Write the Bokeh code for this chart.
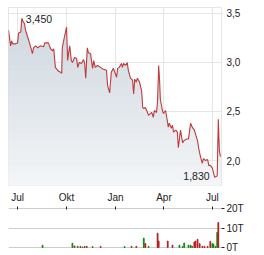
import numpy as np
import pandas as pd
from bokeh.plotting import figure
from bokeh.layouts import column
from bokeh.models import FixedTicker, CustomJSTickFormatter, Range1d, ColumnDataSource
from bokeh.core.properties import value
from bokeh.embed import file_html
from bokeh.resources import INLINE

# ---------------- data ----------------
price_dates = [
    "2023-06-14", "2023-06-18", "2023-06-20", "2023-06-22", "2023-06-27", "2023-07-01", "2023-07-03", "2023-07-07", "2023-07-09", "2023-07-12",
    "2023-07-14", "2023-07-16", "2023-07-20", "2023-07-24", "2023-07-29", "2023-07-31", "2023-08-04", "2023-08-08", "2023-08-13", "2023-08-19",
    "2023-08-21", "2023-08-28", "2023-09-01", "2023-09-05", "2023-09-07", "2023-09-10", "2023-09-16", "2023-09-20", "2023-09-22", "2023-09-23",
    "2023-09-27", "2023-10-01", "2023-10-03", "2023-10-05", "2023-10-07", "2023-10-10", "2023-10-12", "2023-10-16", "2023-10-20", "2023-10-22",
    "2023-10-25", "2023-10-29", "2023-11-02", "2023-11-04", "2023-11-06", "2023-11-09", "2023-11-11", "2023-11-15", "2023-11-19", "2023-11-21",
    "2023-11-24", "2023-11-28", "2023-12-04", "2023-12-09", "2023-12-15", "2023-12-17", "2023-12-21", "2023-12-24", "2023-12-26", "2023-12-28",
    "2024-01-03", "2024-01-05", "2024-01-08", "2024-01-12", "2024-01-14", "2024-01-16", "2024-01-20", "2024-01-23", "2024-01-25", "2024-01-29",
    "2024-02-02", "2024-02-04", "2024-02-06", "2024-02-09", "2024-02-11", "2024-02-15", "2024-02-19", "2024-02-21", "2024-02-23", "2024-02-26",
    "2024-03-01", "2024-03-03", "2024-03-07", "2024-03-09", "2024-03-12", "2024-03-14", "2024-03-18", "2024-03-20", "2024-03-22", "2024-03-24",
    "2024-03-25", "2024-03-29", "2024-03-31", "2024-04-04", "2024-04-08", "2024-04-09", "2024-04-11", "2024-04-15", "2024-04-17", "2024-04-19",
    "2024-04-23", "2024-04-26", "2024-04-28", "2024-05-02", "2024-05-06", "2024-05-08", "2024-05-13", "2024-05-17", "2024-05-21", "2024-05-24",
    "2024-05-28", "2024-06-03", "2024-06-05", "2024-06-08", "2024-06-12", "2024-06-14", "2024-06-18", "2024-06-22", "2024-06-24", "2024-06-27",
    "2024-07-01", "2024-07-05", "2024-07-09", "2024-07-10", "2024-07-12", "2024-07-14", "2024-07-16",
]
price_values = [
    3.33, 3.17, 3.22, 3.19, 3.19, 3.20, 3.30, 3.31, 3.45, 3.41,
    3.40, 3.33, 3.26, 3.19, 3.09, 3.15, 3.17, 3.15, 3.17, 3.16,
    3.20, 3.20, 3.14, 3.12, 3.14, 2.95, 2.91, 2.90, 2.89, 3.15,
    3.26, 3.36, 3.02, 3.10, 3.17, 3.02, 3.00, 3.05, 3.04, 2.95,
    3.00, 2.99, 3.03, 2.99, 2.84, 3.15, 3.10, 3.09, 2.94, 3.02,
    2.95, 2.97, 2.95, 2.93, 2.92, 2.77, 2.69, 2.90, 2.92, 2.94,
    2.85, 2.94, 2.95, 2.99, 2.95, 2.99, 2.97, 3.00, 2.92, 2.84,
    2.82, 2.68, 2.83, 2.80, 2.84, 2.80, 2.71, 2.54, 2.53, 2.54,
    2.49, 2.46, 2.48, 2.49, 2.44, 2.51, 2.49, 2.61, 2.97, 2.79,
    2.63, 2.51, 2.48, 2.51, 2.38, 2.34, 2.38, 2.33, 2.36, 2.29,
    2.31, 2.29, 2.13, 2.31, 2.18, 2.20, 2.22, 2.22, 2.38, 2.34,
    2.31, 2.20, 2.13, 2.05, 1.97, 2.02, 2.00, 2.01, 1.95, 1.95,
    1.92, 1.83, 1.84, 1.85, 2.42, 2.10, 2.04,
]

vol_dates = [
    "2023-08-17", "2023-10-12", "2023-10-16", "2023-10-22", "2023-10-27", "2023-10-31", "2023-11-04", "2023-11-08", "2023-11-19", "2023-12-04",
    "2024-01-18", "2024-01-31", "2024-02-09", "2024-02-23", "2024-02-26", "2024-03-03", "2024-03-20", "2024-03-22", "2024-04-08", "2024-04-17",
    "2024-04-30", "2024-05-06", "2024-05-09", "2024-05-17", "2024-05-21", "2024-05-24", "2024-05-28", "2024-05-30", "2024-06-03", "2024-06-07",
    "2024-06-12", "2024-06-16", "2024-06-22", "2024-06-27", "2024-07-01", "2024-07-03", "2024-07-07", "2024-07-10", "2024-07-12",
]
vol_values = [
    1200, 2200, 800, 600, 600, 300, 600, 600, 500, 600,
    500, 600, 600, 4800, 2000, 600, 7300, 3300, 3300, 1200,
    1200, 500, 2300, 1200, 1200, 600, 2800, 3300, 4200, 2000,
    600, 600, 600, 3200, 2000, 1700, 600, 7800, 12800,
]
vol_dir = [
    "up", "up", "down", "up", "down", "up", "down", "down", "up", "down",
    "up", "down", "down", "up", "down", "up", "down", "down", "down", "down",
    "up", "up", "up", "up", "up", "up", "down", "down", "down", "down",
    "down", "down", "down", "down", "up", "up", "up", "up", "down",
]

x_tick_dates = ["2023-07-01", "2023-10-01", "2024-01-01", "2024-04-01", "2024-07-01"]
x_tick_labels = ["Jul", "Okt", "Jan", "Apr", "Jul"]
y_ticks = [2.0, 2.5, 3.0, 3.5]
vol_ticks = [0, 10000, 20000]

# ---------------- styling ----------------
FONT = "Liberation Sans"
LINE_COLOR = "#c03c3c"
UP_COLOR = "#0a8a0a"
DOWN_COLOR = "#b81c1c"
GRID_MAIN = "#e6e6e6"
GRID_VOL = "#cccccc"
TEXT_COLOR = "#222222"

dates = pd.to_datetime(price_dates)
vals = np.array(price_values)
x_ticks_ms = [pd.Timestamp(d).value / 1e6 for d in x_tick_dates]

x_range = Range1d(start=pd.Timestamp("2023-06-14"), end=pd.Timestamp("2024-07-18"))
y_lo, y_hi = 1.745, 3.561

p = figure(width=264, height=188, x_axis_type="datetime", x_range=x_range,
           y_range=Range1d(y_lo, y_hi), y_axis_location="right",
           output_backend="svg", toolbar_location=None,
           min_border_left=8, min_border_right=43, min_border_top=7, min_border_bottom=3)
p.xaxis.visible = False
p.xgrid.ticker = FixedTicker(ticks=x_ticks_ms)
p.xgrid.grid_line_color = GRID_MAIN
p.ygrid.ticker = FixedTicker(ticks=y_ticks)
p.ygrid.grid_line_color = GRID_MAIN
p.outline_line_color = GRID_MAIN
p.background_fill_color = "white"
p.border_fill_color = "white"

ya = p.yaxis[0]
ya.ticker = FixedTicker(ticks=y_ticks)
ya.formatter = CustomJSTickFormatter(code="return tick.toFixed(1).replace('.', ',');")
ya.major_tick_out = 0
ya.major_tick_in = 0
ya.minor_tick_out = 0
ya.minor_tick_in = 0
ya.axis_line_color = None
ya.major_label_standoff = 5
ya.major_label_text_font = FONT
ya.major_label_text_font_size = "10px"
ya.major_label_text_color = TEXT_COLOR

# gradient-like fill under the curve (painter's order: top band first)
n_bands = 28
top_rgb = np.array([204, 213, 222])
bot_rgb = np.array([244, 246, 248])
edges = np.linspace(y_lo, y_hi, n_bands + 1)
for k in range(n_bands, 0, -1):
    t = (edges[k] - y_lo) / (y_hi - y_lo)
    rgb = bot_rgb + (top_rgb - bot_rgb) * t
    col = "#%02x%02x%02x" % tuple(int(round(c)) for c in rgb)
    p.varea(x=dates, y1=np.full(len(vals), y_lo), y2=np.minimum(vals, edges[k]),
            fill_color=col, fill_alpha=1.0)

p.line(dates, vals, line_color=LINE_COLOR, line_width=1.1)

i_max = int(np.argmax(vals))
i_min = int(np.argmin(vals))
fmt = lambda v: ("%.3f" % v).replace(".", ",")
p.text(x=[dates[i_max]], y=[vals[i_max]], text=[fmt(vals[i_max])],
       text_align="left", text_baseline="middle", x_offset=4, y_offset=1,
       text_font=value(FONT), text_font_size="10.5px", text_color=TEXT_COLOR)
p.text(x=[dates[i_min]], y=[vals[i_min]], text=[fmt(vals[i_min])],
       text_align="right", text_baseline="middle", x_offset=-5, y_offset=-1,
       text_font=value(FONT), text_font_size="10.5px", text_color=TEXT_COLOR)

# ---------------- volume ----------------
p2 = figure(width=264, height=67, x_axis_type="datetime", x_range=x_range,
            y_range=Range1d(-500, 20500), x_axis_location="above", y_axis_location="right",
            output_backend="svg", toolbar_location=None,
            min_border_left=8, min_border_right=43, min_border_top=18, min_border_bottom=7)
p2.outline_line_color = None
p2.xgrid.visible = False
p2.ygrid.ticker = FixedTicker(ticks=vol_ticks)
p2.ygrid.grid_line_color = GRID_VOL
p2.background_fill_color = "white"
p2.border_fill_color = "white"

xa = p2.xaxis[0]
xa.ticker = FixedTicker(ticks=x_ticks_ms)
xa.formatter = CustomJSTickFormatter(args=dict(tick_vals=x_ticks_ms, tick_labels=x_tick_labels),
                                     code="const i = tick_vals.indexOf(tick); return i >= 0 ? tick_labels[i] : '';")
xa.major_tick_out = 1
xa.major_tick_in = 2
xa.minor_tick_out = 0
xa.minor_tick_in = 0
xa.major_tick_line_color = TEXT_COLOR
xa.axis_line_color = None
xa.major_label_standoff = 4
xa.major_label_text_font = FONT
xa.major_label_text_font_size = "10px"
xa.major_label_text_color = TEXT_COLOR

va = p2.yaxis[0]
va.ticker = FixedTicker(ticks=vol_ticks)
va.formatter = CustomJSTickFormatter(code="return (tick / 1000).toFixed(0) + 'T';")
va.major_tick_out = 3
va.major_tick_in = 0
va.minor_tick_out = 0
va.minor_tick_in = 0
va.major_tick_line_color = TEXT_COLOR
va.axis_line_color = None
va.major_label_standoff = 2
va.major_label_text_font = FONT
va.major_label_text_font_size = "10px"
va.major_label_text_color = TEXT_COLOR

vsrc = ColumnDataSource(dict(
    x=pd.to_datetime(vol_dates),
    top=vol_values,
    color=[UP_COLOR if d == "up" else DOWN_COLOR for d in vol_dir],
))
p2.vbar(x="x", top="top", bottom=0, width=1.4 * 86400000, color="color", source=vsrc)

layout = column(p, p2, spacing=0)
open("out.html", "w").write(file_html(layout, INLINE))
